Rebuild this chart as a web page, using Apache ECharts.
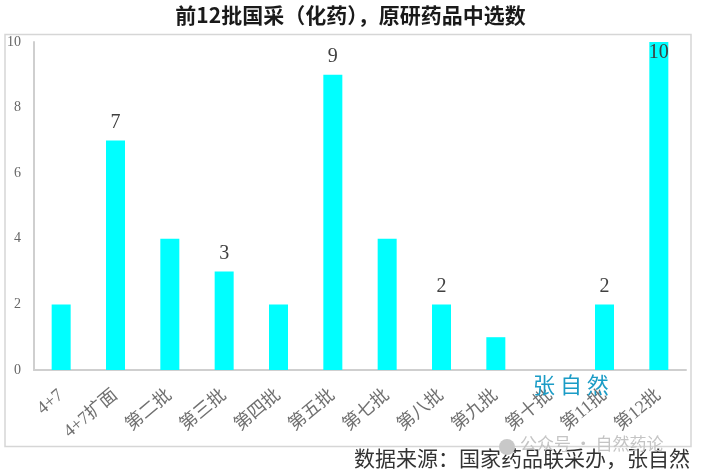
<!DOCTYPE html>
<html>
<head>
<meta charset="utf-8">
<script src="https://cdn.jsdelivr.net/npm/echarts@6/dist/echarts.min.js"></script>
<style>html,body{margin:0;padding:0;background:#fff}#c{width:701px;height:475px}</style>
</head>
<body>
<div id="c"></div>
<script>
const categories = ['4+7', '4+7扩面', '第二批', '第三批', '第四批', '第五批', '第七批', '第八批', '第九批', '第十批', '第11批', '第12批'];
const values = [2, 7, 4, 3, 2, 9, 4, 2, 1, 0, 2, 10];
const labelShown = [false, true, false, true, false, true, false, true, false, false, true, true];
const yTicks = { min: 0, max: 10, interval: 2 };
const titleText = '前12批国采（化药），原研药品中选数';
const sourceText = '数据来源：国家药品联采办，张自然';

const serif = '"Liberation Serif", "DejaVu Serif", "Noto Sans CJK SC", serif';
const chart = echarts.init(document.getElementById('c'));
const seriesData = values.map((v, i) => {
  const item = { value: v };
  if (labelShown[i]) {
    item.label = { show: true, position: v >= yTicks.max ? 'insideTop' : 'top', distance: v >= yTicks.max ? 1 : 8 };
  }
  return item;
});
chart.setOption({
  backgroundColor: '#fff',
  animation: false,
  title: {
    text: titleText,
    left: 'center',
    top: 0,
    textStyle: { fontFamily: '"Noto Sans CJK SC", sans-serif', fontWeight: 'bold', fontSize: 21, color: '#1a1a1a' }
  },
  graphic: [
    { type: 'rect', shape: { x: 5, y: 34.5, width: 686, height: 412 }, style: { fill: 'none', stroke: '#d6d6d6', lineWidth: 1.5 }, z: -1 },
    { type: 'text', left: 533, top: 374, style: { text: '张 自 然', fill: '#1b9cc6', font: '22px "Noto Sans CJK SC", sans-serif' }, z: 10 },
    { type: 'circle', shape: { cx: 507, cy: 447, r: 8 }, style: { fill: '#c8c8c8' }, z: 10 },
    { type: 'text', left: 520, top: 435, style: { text: '公众号 · 自然药论', fill: '#c4c4c4', font: '17px "Noto Sans CJK SC", sans-serif' }, z: 10 },
    { type: 'text', right: 11, top: 450, style: { text: sourceText, fill: '#333333', font: '21px ' + serif } }
  ],
  grid: { left: 34, right: 15, top: 42, bottom: 105 },
  xAxis: {
    type: 'category',
    data: categories,
    axisLine: { lineStyle: { color: '#cfcfcf', width: 2 } },
    axisTick: { show: false },
    axisLabel: { rotate: 40, interval: 0, margin: 23, fontFamily: serif, fontSize: 18, color: '#707070' }
  },
  yAxis: {
    type: 'value',
    min: yTicks.min, max: yTicks.max, interval: yTicks.interval,
    axisLine: { show: true, lineStyle: { color: '#cfcfcf', width: 2 } },
    axisTick: { show: false },
    splitLine: { show: false },
    axisLabel: { margin: 13, fontFamily: serif, fontSize: 14, color: '#666666' }
  },
  series: [{
    type: 'bar',
    data: seriesData,
    barWidth: 19,
    itemStyle: { color: '#00ffff' },
    label: { show: false, fontFamily: serif, fontSize: 20, color: '#404040' }
  }]
});
</script>
</body>
</html>
